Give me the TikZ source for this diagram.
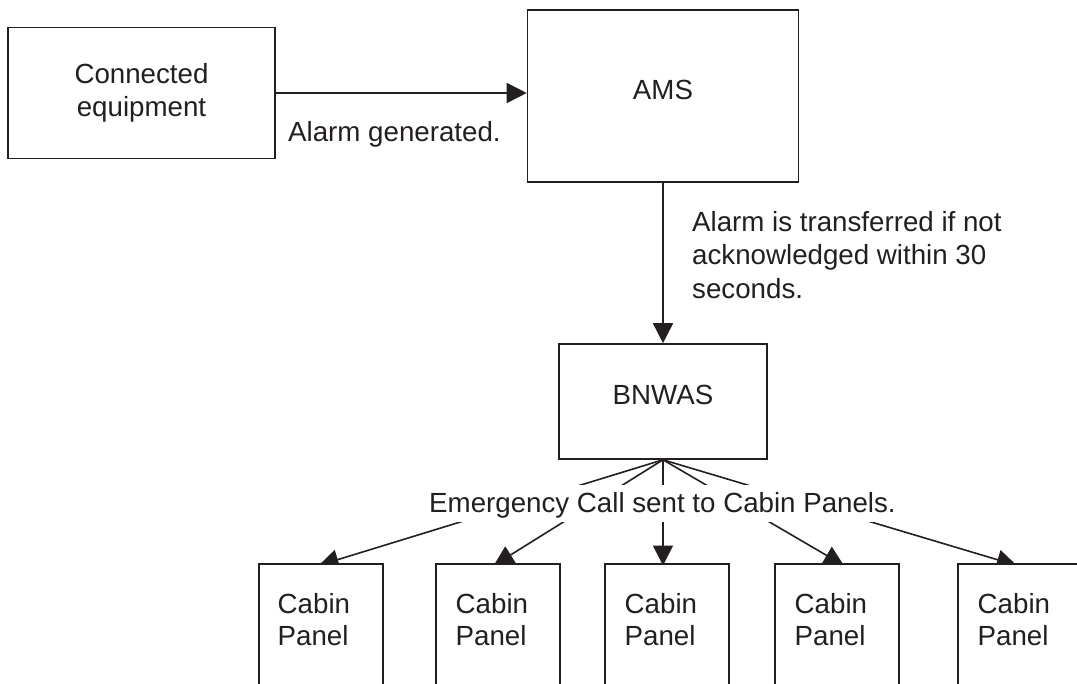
\documentclass[tikz,border=0pt]{standalone}
\usepackage{fontspec}
\setmainfont{Liberation Sans}
\usetikzlibrary{arrows.meta,calc}
\definecolor{ink}{RGB}{35,31,32}
\pgfdeclarelayer{bg}
\pgfsetlayers{bg,main}
\begin{document}
\begin{tikzpicture}[x=1pt,y=-1pt,
  every node/.style={font=\fontsize{27.7}{32.5}\selectfont, text=ink},
  box/.style={draw=ink, line width=1.6pt, fill=white, inner sep=0pt},
  cabin/.style={box, minimum width=124, minimum height=200, anchor=north},
  cabtext/.style={anchor=north west, align=left, inner sep=0pt},
  conn/.style={draw=ink, line width=1.6pt, -{Triangle[length=20pt,width=20pt]}}]
\useasboundingbox (0,0) rectangle (1077,684);
\clip (0,0) rectangle (1077,684);

% main boxes
\node[box, minimum width=267, minimum height=131, align=center] (ce) at (141.5,93) {Connected\\equipment};
\node[box, minimum width=271, minimum height=172, text height=19.8, text depth=11.8] (ams) at (663,96) {AMS};
\node[box, minimum width=208, minimum height=115, text height=19.8, text depth=12.8] (bnwas) at (663,401.5) {BNWAS};

% cabin panels
\node[cabin] (cp1) at (321,563) {};
\node[cabin] (cp2) at (498,563) {};
\node[cabin] (cp3) at (667,563) {};
\node[cabin] (cp4) at (837,563) {};
\node[cabin] (cp5) at (1020,563) {};
\node[cabtext] at (277.5,593) {Cabin\\Panel};
\node[cabtext] at (455.5,593) {Cabin\\Panel};
\node[cabtext] at (624.5,593) {Cabin\\Panel};
\node[cabtext] at (794.5,593) {Cabin\\Panel};
\node[cabtext] at (977.5,593) {Cabin\\Panel};

% connectors
\draw[conn] (ce.east) -- (ce.east -| ams.west);
\draw[conn] (ams.south) -- (bnwas.north);
\begin{pgfonlayer}{bg}
\draw[conn] (bnwas.south) -- ($(cp1.north)+(-2.4,2.5)$);
\draw[conn] (bnwas.south) -- ($(cp2.north)+(-4.3,2.5)$);
\draw[conn] (bnwas.south) -- ($(cp3.north)+(-4,2.5)$);
\draw[conn] (bnwas.south) -- ($(cp4.north)+(6.9,2.5)$);
\draw[conn] (bnwas.south) -- ($(cp5.north)+(-3.2,2.5)$);
\end{pgfonlayer}

% labels
\node[anchor=base west, inner sep=0pt] (lgen) at (288,142) {Alarm generated.};
\node[anchor=north west, align=left, inner sep=0pt, font=\fontsize{27.7}{33.5}\selectfont] (ltrans) at (692,211) {Alarm is transferred if not\\acknowledged within 30\\seconds.};
\node[anchor=base, fill=white, inner sep=0pt, text height=28, text depth=9] (lcall) at (662.5,513) {Emergency Call sent to Cabin Panels.};
\end{tikzpicture}
\end{document}
